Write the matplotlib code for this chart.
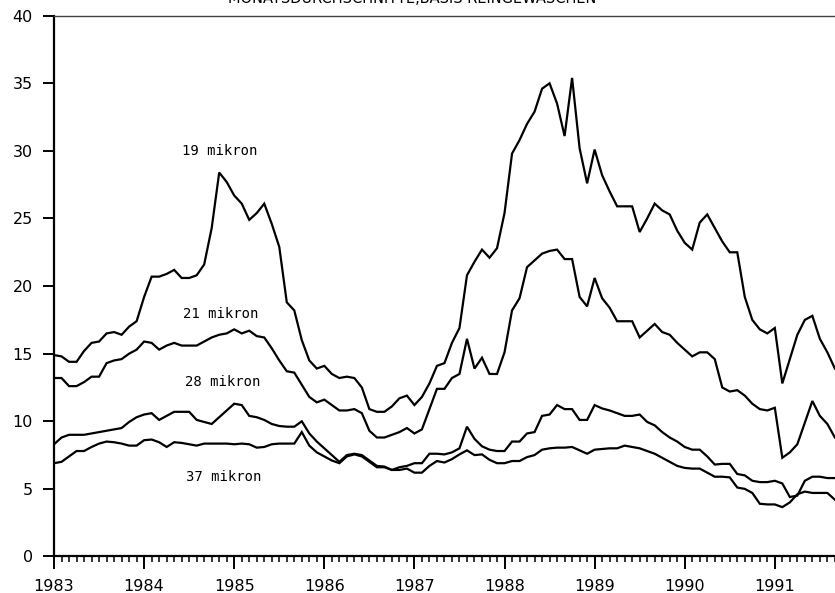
import numpy as np
import matplotlib
matplotlib.use("Agg")
import matplotlib.pyplot as plt
from matplotlib.ticker import MultipleLocator, FixedLocator

# Monthly averages, Jan 1983 .. Sep 1991
start_year = 1983
mik19 = [14.9, 14.8, 14.4, 14.4, 15.2, 15.8, 15.9, 16.5, 16.6, 16.4, 17.0, 17.4,
         19.2, 20.7, 20.7, 20.9, 21.2, 20.6, 20.6, 20.8, 21.6, 24.3, 28.4, 27.7,
         26.7, 26.1, 24.9, 25.4, 26.1, 24.6, 22.9, 18.8, 18.2, 16.0, 14.5, 13.9,
         14.1, 13.5, 13.2, 13.3, 13.2, 12.5, 10.9, 10.7, 10.7, 11.1, 11.7, 11.9,
         11.2, 11.8, 12.8, 14.1, 14.3, 15.8, 16.9, 20.8, 21.8, 22.7, 22.1, 22.8,
         25.4, 29.8, 30.8, 32.0, 32.9, 34.6, 35.0, 33.5, 31.1, 35.4, 30.2, 27.6,
         30.1, 28.2, 27.0, 25.9, 25.9, 25.9, 24.0, 25.0, 26.1, 25.6, 25.3, 24.1,
         23.2, 22.7, 24.7, 25.3, 24.3, 23.3, 22.5, 22.5, 19.2, 17.5, 16.8, 16.5,
         16.9, 12.8, 14.6, 16.4, 17.5, 17.8, 16.1, 15.1, 13.9]
mik21 = [13.2, 13.2, 12.6, 12.6, 12.9, 13.3, 13.3, 14.3, 14.5, 14.6, 15.0, 15.3,
         15.9, 15.8, 15.3, 15.6, 15.8, 15.6, 15.6, 15.6, 15.9, 16.2, 16.4, 16.5,
         16.8, 16.5, 16.7, 16.3, 16.2, 15.4, 14.5, 13.7, 13.6, 12.7, 11.8, 11.4,
         11.6, 11.2, 10.8, 10.8, 10.9, 10.6, 9.3, 8.8, 8.8, 9.0, 9.2, 9.5,
         9.1, 9.4, 10.9, 12.4, 12.4, 13.2, 13.5, 16.1, 13.9, 14.7, 13.5, 13.5,
         15.1, 18.2, 19.1, 21.4, 21.9, 22.4, 22.6, 22.7, 22.0, 22.0, 19.2, 18.5,
         20.6, 19.1, 18.4, 17.4, 17.4, 17.4, 16.2, 16.7, 17.2, 16.6, 16.4, 15.8,
         15.3, 14.8, 15.1, 15.1, 14.6, 12.5, 12.2, 12.3, 11.9, 11.3, 10.9, 10.8,
         11.0, 7.3, 7.7, 8.3, 9.9, 11.5, 10.4, 9.8, 8.8]
mik28 = [8.3, 8.8, 9.0, 9.0, 9.0, 9.1, 9.2, 9.3, 9.4, 9.5, 9.95, 10.3,
         10.5, 10.6, 10.1, 10.4, 10.7, 10.7, 10.7, 10.1, 9.95, 9.8, 10.3, 10.8,
         11.3, 11.2, 10.4, 10.3, 10.1, 9.8, 9.65, 9.6, 9.6, 10.0, 9.1, 8.5,
         8.0, 7.5, 7.0, 7.5, 7.6, 7.5, 7.1, 6.7, 6.65, 6.4, 6.6, 6.7,
         6.9, 6.9, 7.6, 7.6, 7.55, 7.7, 8.0, 9.6, 8.7, 8.15, 7.9, 7.8,
         7.8, 8.5, 8.5, 9.1, 9.2, 10.4, 10.5, 11.2, 10.9, 10.9, 10.1, 10.1,
         11.2, 10.95, 10.8, 10.6, 10.4, 10.4, 10.5, 9.95, 9.7, 9.2, 8.8, 8.5,
         8.1, 7.9, 7.9, 7.4, 6.8, 6.85, 6.85, 6.1, 6.0, 5.6, 5.5, 5.5,
         5.6, 5.4, 4.4, 4.5, 5.6, 5.9, 5.9, 5.8, 5.8]
mik37 = [6.9, 7.0, 7.4, 7.8, 7.8, 8.1, 8.35, 8.5, 8.45, 8.35, 8.2, 8.2,
         8.6, 8.65, 8.45, 8.1, 8.45, 8.4, 8.3, 8.2, 8.35, 8.35, 8.35, 8.35,
         8.3, 8.35, 8.3, 8.05, 8.1, 8.3, 8.35, 8.35, 8.35, 9.2, 8.2, 7.7,
         7.4, 7.1, 6.9, 7.4, 7.55, 7.4, 7.0, 6.6, 6.6, 6.4, 6.4, 6.5,
         6.2, 6.2, 6.7, 7.06, 6.95, 7.2, 7.55, 7.85, 7.5, 7.55, 7.15, 6.9,
         6.9, 7.06, 7.06, 7.35, 7.5, 7.9, 8.0, 8.05, 8.05, 8.1, 7.85, 7.6,
         7.9, 7.95, 8.0, 8.0, 8.2, 8.1, 8.0, 7.8, 7.6, 7.3, 7.0, 6.7,
         6.55, 6.5, 6.5, 6.2, 5.9, 5.9, 5.85, 5.1, 5.0, 4.7, 3.9, 3.85,
         3.85, 3.65, 4.0, 4.6, 4.8, 4.7, 4.7, 4.7, 4.2]

series_labels = ["19 mikron", "21 mikron", "28 mikron", "37 mikron"]
label_pos = [(1984.84, 30.0), (1984.85, 17.96), (1984.87, 12.93), (1984.88, 5.89)]
year_ticks = list(range(1983, 1992))
y_ticks = list(range(0, 41, 5))
title = "MONATSDURCHSCHNITTE,BASIS REINGEWASCHEN"

t = start_year + np.arange(len(mik19)) / 12.0

fig = plt.figure(figsize=(8.35, 5.93), dpi=100)
ax = fig.add_axes([0.0647, 0.0616, 1.0 - 0.0647, 0.9735 - 0.0616])

for s in (mik19, mik21, mik28, mik37):
    ax.plot(t, s, color="black", lw=1.6, solid_joinstyle="miter")

ax.set_xlim(1983, 1991.668)
ax.set_ylim(0, 40)

ax.xaxis.set_major_locator(FixedLocator(year_ticks))
ax.xaxis.set_minor_locator(MultipleLocator(1 / 12))
ax.yaxis.set_major_locator(FixedLocator(y_ticks))
ax.set_xticklabels([str(y) for y in year_ticks])

ax.tick_params(axis="x", which="major", direction="out", length=9.4, width=1.4, pad=6.5,
               labelsize=11.5)
ax.tick_params(axis="x", which="minor", direction="out", length=4.3, width=1.1)
ax.tick_params(axis="y", which="major", direction="out", length=7.7, width=1.4, pad=7.5,
               labelsize=11.5)

for sp in ("left", "bottom"):
    ax.spines[sp].set_linewidth(1.6)
ax.spines["top"].set_linewidth(1.0)
ax.spines["top"].set_color("#444444")
ax.spines["right"].set_visible(False)

for lab, (lx, ly) in zip(series_labels, label_pos):
    ax.text(lx, ly, lab, ha="center", va="center", fontsize=10,
            family="DejaVu Sans Mono")

fig.text(0.494, 0.99, title, ha="center", va="bottom", fontsize=10.5)

fig.savefig("out.png", dpi=100)
